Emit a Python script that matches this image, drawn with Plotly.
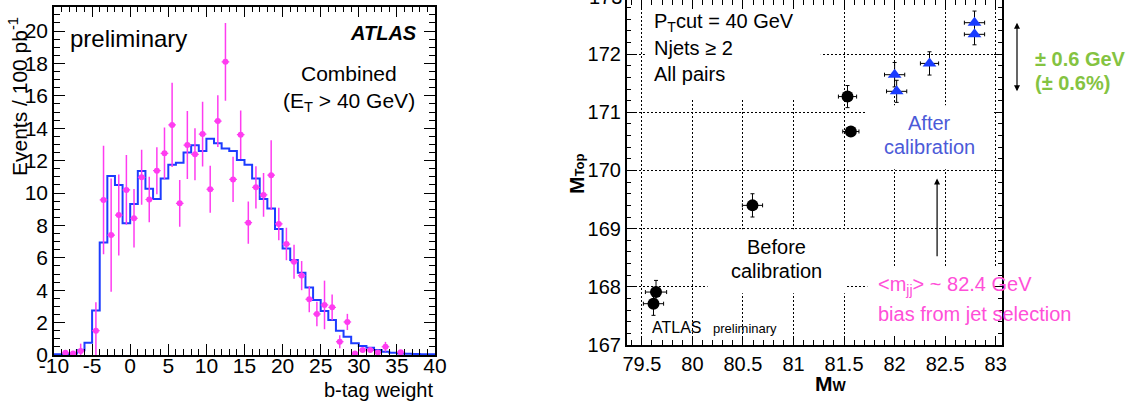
import plotly.graph_objects as go

FONT = "Liberation Sans, Arial, Helvetica, sans-serif"
W, H = 1135, 405

# ---------------- Left panel data ----------------
bin_edges = list(range(-10, 41))
mc_values = [0.05, 0.05, 0.1, 0.3, 0.75, 2.75, 6.95, 11.05, 10.5, 8.13,
             9.32, 11.36, 10.27, 9.63, 10.9, 11.75, 11.87, 12.5, 12.95, 12.6,
             13.35, 13.07, 12.74, 12.6, 12.04, 11.75, 10.9, 9.63, 9.05, 7.78,
             6.58, 5.86, 5.08, 4.16, 3.4, 2.72, 2.16, 1.5, 1.13, 0.72,
             0.56, 0.45, 0.31, 0.2, 0.14, 0.1, 0.08, 0.06, 0.05, 0.04]

data_x = [-8.5, -7.5, -6.5, -4.5, -3.5, -2.5, -1.5, -0.5,
          0.5, 1.5, 2.5, 3.5, 4.5, 5.5, 6.5, 7.5, 8.5, 9.5,
          10.5, 11.5, 12.5, 13.5, 14.5, 15.5, 16.5, 17.5, 18.5, 19.5,
          20.5, 21.5, 22.5, 23.5, 24.5, 25.5, 26.5, 27.5, 28.5, 29.5,
          30.5, 31.5, 32.5, 33.5, 35.5]
data_y = [0.14, 0.1, 0.25, 1.5, 9.57, 7.4, 8.64, 10.19,
          8.44, 10.97, 9.6, 11.38, 12.45, 14.2, 9.36, 12.96, 12.39, 13.64,
          10.23, 14.44, 18.1, 10.84, 13.6, 8.17, 10.35, 9.88, 11.1, 8.09,
          6.85, 5.76, 4.9, 3.44, 2.53, 3.09, 2.94, 0.82, 2.04, 0.1,
          0.31, 0.31, 0.16, 0.51, 0.17]
data_err = [0.1, 0.1, 0.45, 1.75, 3.35, 3.5, 2.5, 2.15,
            1.8, 1.7, 1.4, 1.45, 1.6, 2.6, 1.45, 2.1, 1.6, 2.0,
            1.45, 1.6, 2.4, 1.4, 1.5, 1.3, 1.3, 1.35, 2.15, 1.0,
            1.0, 1.05, 0.9, 0.8, 0.75, 1.5, 0.8, 0.4, 0.5, 0.05,
            0.1, 0.1, 0.1, 0.3, 0.1]
data_xerr = [0.5] * len(data_x)

left_xticks = [-10, -5, 0, 5, 10, 15, 20, 25, 30, 35, 40]
left_xticktext = ["-10", "-5", "0", "5", "10", "15", "20", "25", "30", "35", "40"]

# ---------------- Right panel data ----------------
before_x = [79.64, 79.615, 80.594, 81.534, 81.567]
before_y = [167.91, 167.71, 169.40, 171.27, 170.67]
before_ex = [0.105, 0.1, 0.1, 0.09, 0.08]
before_ey = [0.2, 0.2, 0.2, 0.19, 0.05]

after_x = [82.0, 82.02, 82.345, 82.79, 82.79]
after_y = [171.646, 171.36, 171.84, 172.54, 172.34]
after_ex = [0.1, 0.1, 0.09, 0.1, 0.1]
after_ey = [0.21, 0.19, 0.2, 0.2, 0.18]

MAGENTA = "#ff3cf0"
HISTBLUE = "#1d3cff"
TRIBLUE = "#1a3cff"
AFTERBLUE = "#4b5ad8"
PINK = "#ff4fd8"
GREEN = "#84c341"

fig = go.Figure()

# histogram (step line)
fig.add_trace(go.Scatter(
    x=bin_edges, y=mc_values + [mc_values[-1]],
    mode="lines", line=dict(shape="hv", color=HISTBLUE, width=2),
    xaxis="x", yaxis="y", showlegend=False, hoverinfo="skip"))

# data points
fig.add_trace(go.Scatter(
    x=data_x, y=data_y, mode="markers",
    marker=dict(color=MAGENTA, size=6),
    error_y=dict(type="data", array=data_err, color=MAGENTA, thickness=1.5, width=0),
    error_x=dict(type="data", array=data_xerr, color=MAGENTA, thickness=1.2, width=0),
    xaxis="x", yaxis="y", showlegend=False))

# right panel points
fig.add_trace(go.Scatter(
    x=before_x, y=before_y, mode="markers",
    marker=dict(color="black", size=12, symbol="circle"),
    error_x=dict(type="data", array=before_ex, color="black", thickness=1, width=2),
    error_y=dict(type="data", array=before_ey, color="black", thickness=1, width=2),
    xaxis="x2", yaxis="y2", showlegend=False))
fig.add_trace(go.Scatter(
    x=after_x, y=after_y, mode="markers",
    marker=dict(color=TRIBLUE, size=12, symbol="triangle-up"),
    error_x=dict(type="data", array=after_ex, color="black", thickness=1, width=2),
    error_y=dict(type="data", array=after_ey, color="black", thickness=1, width=2),
    xaxis="x2", yaxis="y2", showlegend=False))

left_common = dict(showline=True, linecolor="black", linewidth=1.5, mirror="ticks",
                   ticks="inside", tickcolor="black", tickwidth=1.2, automargin=False,
                   zeroline=False, showgrid=False,
                   tickfont=dict(family=FONT, size=21, color="black"))
right_common = dict(showline=True, linecolor="black", linewidth=1.5, mirror="ticks",
                    ticks="inside", tickcolor="black", tickwidth=1.2, zeroline=False,
                    automargin=False,
                    showgrid=True, gridcolor="black", gridwidth=1, griddash="2px,2px",
                    tickfont=dict(family=FONT, size=20, color="black"))

fig.update_layout(
    width=W, height=H,
    margin=dict(l=0, r=0, t=0, b=0, autoexpand=False),
    paper_bgcolor="white", plot_bgcolor="white",
    font=dict(family=FONT, color="black"),
    xaxis=dict(domain=[54 / W, 435 / W], range=[-10, 40], anchor="y",
               tickmode="array", tickvals=left_xticks, ticktext=left_xticktext, ticklen=11,
               ticklabelstandoff=-9,
               minor=dict(dtick=1, tick0=0, ticklen=6, ticks="inside", tickcolor="black", tickwidth=1.2),
               **left_common),
    yaxis=dict(domain=[1 - 355 / H, 1 - 6.7 / H], range=[0, 21.5], anchor="x",
               dtick=2, tick0=0, ticklen=11,
               minor=dict(dtick=0.5, ticklen=6, ticks="inside", tickcolor="black", tickwidth=1.2),
               **left_common),
    xaxis2=dict(domain=[626.7 / W, 1002.3 / W], range=[79.35, 83.065], anchor="y2",
                dtick=0.5, tick0=79.5, ticklen=9,
                minor=dict(dtick=0.1, tick0=79.5, ticklen=5, ticks="inside", tickcolor="black", tickwidth=1),
                **right_common),
    yaxis2=dict(domain=[1 - 345 / H, 1], range=[167, 172.93], anchor="x2",
                dtick=1, tick0=167, ticklen=9,
                minor=dict(dtick=0.2, tick0=167, ticklen=5, ticks="inside", tickcolor="black", tickwidth=1),
                **right_common),
)

# white text boxes hiding parts of the grid (right panel)
for x0, x1, y0, y1 in [(79.53, 81.27, 171.24, 173.0),
                       (80.15, 81.52, 167.89, 168.99),
                       (81.72, 82.98, 170.02, 171.12),
                       (81.73, 83.2, 166.9, 168.34)]:
    fig.add_shape(type="rect", xref="x2", yref="y2", x0=x0, x1=x1, y0=y0, y1=y1,
                  fillcolor="white", line=dict(width=0), layer="between")


def px(p):
    return p / W


def py(p):
    return 1 - p / H


def ann(text, x, y, size, color="black", xanchor="center", yanchor="middle", angle=0):
    fig.add_annotation(text=text, xref="paper", yref="paper", x=px(x), y=py(y),
                       xanchor=xanchor, yanchor=yanchor, showarrow=False, textangle=angle,
                       font=dict(family=FONT, size=size, color=color))


# left panel texts
ann("preliminary", 68, 38, 24, xanchor="left")
ann("<b><i>ATLAS</i></b>", 419, 33, 20, xanchor="right")
ann("Combined", 349, 74, 21)
ann("(E<sub>T</sub> &gt; 40 GeV)", 349, 102, 21)
ann("Events / 100 pb<sup>-1</sup>", 18, 97, 21, angle=-90)
ann("b-tag weight", 435, 390, 20, xanchor="right")

# right panel texts
ann("P<sub>T</sub>cut = 40 GeV", 652, 22, 20, xanchor="left")
ann("Njets ≥ 2", 652, 48, 20, xanchor="left")
ann("All pairs", 652, 74, 20, xanchor="left")
ann("Before", 776, 247, 20)
ann("calibration", 776, 271, 20)
ann("After", 929, 123, 20, color=AFTERBLUE)
ann("calibration", 929, 147, 20, color=AFTERBLUE)
ann("ATLAS", 650, 327, 16, xanchor="left")
ann("preliminary", 711, 328, 13, xanchor="left")
ann("&lt;m<sub>jj</sub>&gt; ~ 82.4 GeV", 876, 285, 20, color=PINK, xanchor="left")
ann("bias from jet selection", 876, 314, 20, color=PINK, xanchor="left")
ann("<b>± 0.6 GeV</b>", 1033, 59, 20, color=GREEN, xanchor="left")
ann("<b>(± 0.6%)</b>", 1033, 83, 20, color=GREEN, xanchor="left")
ann("173", 624, -3, 20, xanchor="right")
ann("<b>M<span style='font-size:13px'>Top</span></b>", 577, 174, 21, angle=-90)
ann("<b>M<span style='font-size:14px'>W</span></b>", 831, 383, 21)

# arrows
fig.add_annotation(xref="x2", yref="y2", axref="x2", ayref="y2",
                   x=82.42, y=169.86, ax=82.42, ay=168.5, text="",
                   showarrow=True, arrowhead=2, arrowsize=1, arrowwidth=1.2, arrowcolor="black")
fig.add_annotation(xref="paper", yref="y2", x=px(1017), y=171.36,
                   ax=0, ay=-70, axref="pixel", ayref="pixel", text="",
                   showarrow=True, arrowhead=2, arrowside="end+start",
                   arrowsize=1, arrowwidth=1.2, arrowcolor="black")

fig.write_html("out.html", config={"displayModeBar": False},
               post_script="document.body.style.margin='0';")
